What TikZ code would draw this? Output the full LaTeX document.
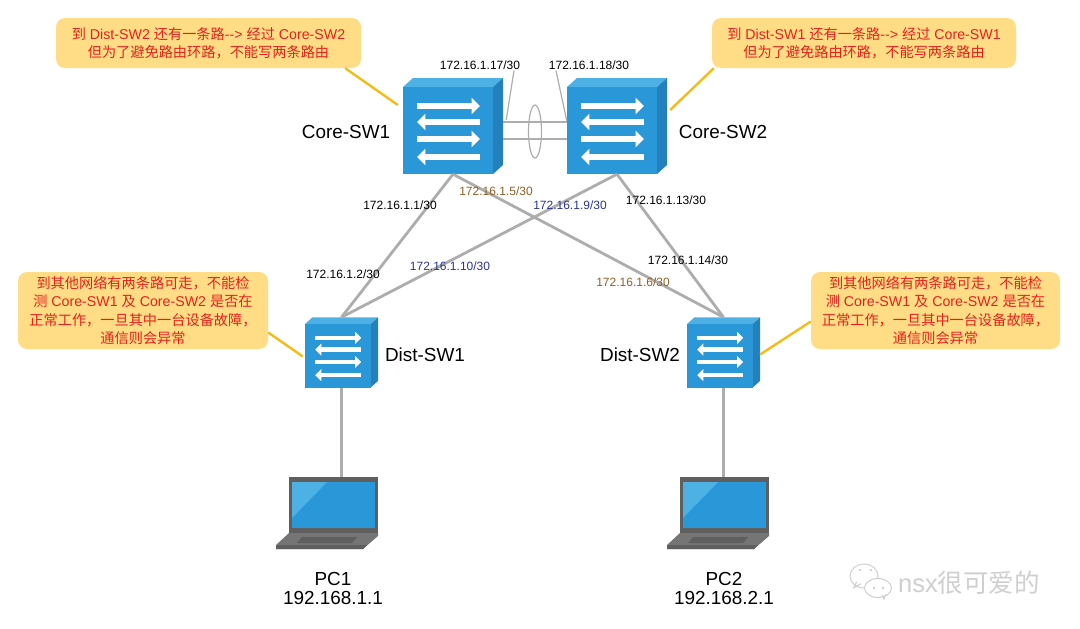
\documentclass[tikz,border=0pt]{standalone}
\usepackage{fontspec}
\setmainfont{Liberation Sans}
\newfontfamily\cjk{Noto Sans CJK SC}
\usetikzlibrary{arrows.meta,shapes.geometric}
\definecolor{swfront}{HTML}{2A97D8}
\definecolor{swtop}{HTML}{4DB1E6}
\definecolor{swside}{HTML}{2380BC}
\definecolor{notefill}{HTML}{FFDC85}
\definecolor{leadcol}{HTML}{F6BB17}
\definecolor{linkcol}{HTML}{ADADAD}
\definecolor{notered}{HTML}{E3231B}
\definecolor{ipbrown}{HTML}{8F5F24}
\definecolor{ipblue}{HTML}{2B3390}
\definecolor{lapframe}{HTML}{5F5F5F}
\definecolor{lapbase}{HTML}{757575}
\definecolor{markcol}{HTML}{CFCFCF}
\newcommand{\zh}[1]{{\cjk #1}}
\tikzstyle{note} = [fill=notefill, rounded corners=9pt, text=notered, align=center, inner sep=0pt, font=\fontsize{14.2}{18.2}\selectfont]
\tikzstyle{lead} = [draw=leadcol, line width=2.4pt]
\tikzstyle{link} = [draw=linkcol, line width=2.8pt]
\tikzstyle{thinlink} = [draw=linkcol, line width=1.2pt]
\tikzstyle{ip} = [inner sep=1pt, font=\fontsize{12}{14}\selectfont]
\tikzstyle{devname} = [inner sep=0pt, font=\fontsize{18.9}{22}\selectfont]
\tikzstyle{hostname} = [inner sep=0pt, align=center, font=\fontsize{18.9}{19}\selectfont]
\tikzstyle{swarrow} = [white, -{Triangle[length=0pt 1.4,width=0pt 2.7]}]
\newcommand{\switchicon}[4]{
  \begin{scope}[shift={(#2,#3)}, scale=#4]
    \fill[swtop] (0,0) -- (10,-9) -- (100,-9) -- (90,0) -- cycle;
    \fill[swside] (90,0) -- (100,-9) -- (100,78) -- (90,87) -- cycle;
    \fill[swfront] (0,0) rectangle (90,87);
    \foreach \ya/\xs/\xe in {19/14/77, 35/77/14, 52/14/77, 70/77/14}
      \draw[swarrow, line width=#4*6pt] (\xs,\ya) -- (\xe,\ya);
    \node[minimum width=#4*100pt, minimum height=#4*96pt, inner sep=0pt] (#1) at (50,39) {};
  \end{scope}
}
\newcommand{\laptopicon}[2]{
  \begin{scope}[shift={(#2,477)}]
    \fill[lapframe] (0,0) rectangle (89,56);
    \fill[swfront] (3,5) rectangle (86,51);
    \fill[swtop] (3,5) -- (38,5) -- (3,41) -- cycle;
    \fill[lapbase] (0,56) -- (89,56) -- (89,59) -- (74,72) -- (-13,72) -- (-13,68) -- cycle;
    \fill[lapframe] (-13,68) -- (78,68) -- (74,72) -- (-13,72) -- cycle;
    \fill[lapframe] (13,60) -- (68,60) -- (63,66) -- (8,66) -- cycle;
    \node[minimum width=102pt, minimum height=72pt, inner sep=0pt] (#1) at (38,36) {};
  \end{scope}
}

\begin{document}
\begin{tikzpicture}[x=1pt, y=-1pt]
  \useasboundingbox (0,0) rectangle (1080,629);

  % Notes
  \node[note, minimum width=305pt, minimum height=50pt] (note1) at (208.5,43)
    {\zh{到} Dist-SW2 \zh{还有一条路}-{}-> \zh{经过} Core-SW2\\\zh{但为了避免路由环路，不能写两条路由}};
  \node[note, minimum width=304pt, minimum height=50pt] (note2) at (864,43)
    {\zh{到} Dist-SW1 \zh{还有一条路}-{}-> \zh{经过} Core-SW1\\\zh{但为了避免路由环路，不能写两条路由}};
  \node[note, minimum width=250pt, minimum height=77pt] (note3) at (143,310.5)
    {\zh{到其他网络有两条路可走，不能检}\\\zh{测} Core-SW1 \zh{及} Core-SW2 \zh{是否在}\\\zh{正常工作，一旦其中一台设备故障，}\\\zh{通信则会异常}};
  \node[note, minimum width=249pt, minimum height=77pt] (note4) at (935.5,310.5)
    {\zh{到其他网络有两条路可走，不能检}\\\zh{测} Core-SW1 \zh{及} Core-SW2 \zh{是否在}\\\zh{正常工作，一旦其中一台设备故障，}\\\zh{通信则会异常}};

  % Switches, laptops
  \switchicon{core1}{403}{87}{1}
  \switchicon{core2}{567}{87}{1}
  \switchicon{dist1}{305}{324}{0.73}
  \switchicon{dist2}{687}{324}{0.73}
  \laptopicon{pc1}{289}
  \laptopicon{pc2}{680}

  % Links
  \draw[link] (core1.south) -- (dist1.north);
  \draw[link] (core1.south) -- (dist2.north);
  \draw[link] (core2.south) -- (dist1.north);
  \draw[link] (core2.south) -- (dist2.north);
  \draw[link] (dist1.south) -- (dist1.south |- pc1.north);
  \draw[link] (dist2.south) -- (dist2.south |- pc2.north);
  \draw[link] ([yshift=4pt]core1.east) -- ([yshift=4pt]core2.west);
  \draw[link] ([yshift=-13pt]core1.east) -- ([yshift=-13pt]core2.west);
  \node[draw=linkcol, line width=1.2pt, ellipse, minimum width=13pt, minimum height=53pt, inner sep=0pt] (lag) at (535,131.5) {};

  % Leader lines
  \draw[lead] ([xshift=-16pt]note1.south east) -- ([xshift=-5pt,yshift=21pt]core1.west);
  \draw[lead] ([xshift=2pt]note2.south west) -- ([xshift=3pt,yshift=16pt]core2.east);
  \draw[lead] ([yshift=-22pt]note3.east) -- ([xshift=-2pt,yshift=-4pt]dist1.west);
  \draw[lead] ([yshift=-11pt]note4.west) -- ([yshift=-2pt]dist2.east);

  % Names
  \node[devname] (core1name) at (346,132) {Core-SW1};
  \node[devname] (core2name) at (723,132) {Core-SW2};
  \node[devname] (dist1name) at (425,355) {Dist-SW1};
  \node[devname] (dist2name) at (640,355) {Dist-SW2};
  \node[hostname] (pc1name) at (333,588) {PC1\\192.168.1.1};
  \node[hostname] (pc2name) at (724,588) {PC2\\192.168.2.1};

  % Addresses
  \node[ip] (ip17) at (480,65) {172.16.1.17/30};
  \node[ip] (ip18) at (589,65) {172.16.1.18/30};
  \node[ip] (ip1) at (400,205) {172.16.1.1/30};
  \node[ip] (ip2) at (343,274) {172.16.1.2/30};
  \node[ip] (ip13) at (666,200) {172.16.1.13/30};
  \node[ip] (ip14) at (688,260) {172.16.1.14/30};
  \node[ip, text=ipbrown] (ip5) at (496,191) {172.16.1.5/30};
  \node[ip, text=ipbrown] (ip6) at (633,282) {172.16.1.6/30};
  \node[ip, text=ipblue] (ip9) at (570,205) {172.16.1.9/30};
  \node[ip, text=ipblue] (ip10) at (450,266) {172.16.1.10/30};
  \draw[thinlink] ([xshift=34pt]ip17.south) -- ([xshift=3pt,yshift=6pt]core1.east);
  \draw[thinlink] ([xshift=-33pt]ip18.south) -- ([yshift=5pt]core2.west);

  % Watermark
  \node[inner sep=0pt, anchor=west, text=markcol, font=\fontsize{25.5}{27}\selectfont] (mark) at (898,583) {nsx\zh{很可爱的}};
  \node[draw=markcol, ellipse, line width=1pt, minimum width=28pt, minimum height=24pt, inner sep=0pt] (bubble1) at (864,576) {};
  \draw[markcol, line width=1pt] ([xshift=3pt,yshift=3pt]bubble1.south west) -- ([xshift=0pt,yshift=-3pt]bubble1.south west) -- ([xshift=7pt,yshift=1pt]bubble1.south west);
  \node[draw=markcol, fill=white, ellipse, line width=1pt, minimum width=27pt, minimum height=19pt, inner sep=0pt] (bubble2) at (878,588) {};
  \draw[markcol, line width=1pt] ([xshift=-6pt]bubble2.south east) -- ([xshift=-4pt,yshift=-4pt]bubble2.south east) -- ([xshift=-2pt,yshift=1pt]bubble2.south east);
  \foreach \dx/\dy in {860/570, 871/570, 874/588, 883/588}
    \fill[markcol] (\dx,\dy) circle (1.3pt);
\end{tikzpicture}
\end{document}
